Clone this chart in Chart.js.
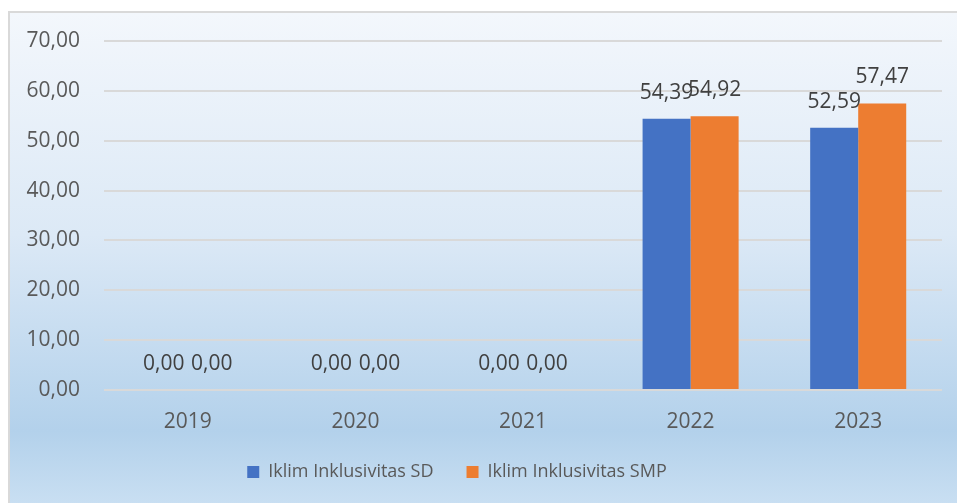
<!DOCTYPE html>
<html>
<head>
<meta charset="utf-8">
<script src="https://cdn.jsdelivr.net/npm/chart.js@4.4.0/dist/chart.umd.min.js"></script>
<style>
  body { margin: 0; background: #ffffff; }
  #box {
    position: absolute; left: 8px; top: 11px; width: 949px; height: 492px;
    border-left: 2px solid #d9d9d9; border-top: 2px solid #d9d9d9;
    background: linear-gradient(to bottom, #f3f7fc 0%, #dce9f6 45%, #b3d1eb 85%, #c9dff2 100%);
  }
  canvas { display: block; }
</style>
</head>
<body>
<div id="box"><canvas id="myChart" width="947" height="490"></canvas></div>
<script>
var years = ["2019", "2020", "2021", "2022", "2023"];
var seriesNames = ["Iklim Inklusivitas SD", "Iklim Inklusivitas SMP"];
var nilaiSD = [0, 0, 0, 54.39, 52.59];
var nilaiSMP = [0, 0, 0, 54.92, 57.47];
var yTicks = [0, 10, 20, 30, 40, 50, 60, 70];

function fmt(v) {
    return v.toFixed(2).replace('.', ',');
}

// value labels above each bar
var labelPlugin = {
    id: 'barLabels',
    afterDatasetsDraw: function (chart) {
        var ctx = chart.ctx;
        ctx.save();
        ctx.font = '21px "Open Sans"';
        ctx.fillStyle = '#404040';
        ctx.textAlign = 'center';
        ctx.textBaseline = 'middle';
        chart.data.datasets.forEach(function (ds, i) {
            var meta = chart.getDatasetMeta(i);
            meta.data.forEach(function (bar, j) {
                ctx.fillText(fmt(ds.data[j]), bar.x, bar.y - 26);
            });
        });
        ctx.restore();
    }
};

// legend sits a bit left of centre in the original
var legendShift = {
    id: 'legendShift',
    afterLayout: function (chart) {
        if (chart.legend) {
            chart.legend.left -= 19;
            chart.legend.right -= 19;
        }
    }
};

var ctx = document.getElementById("myChart").getContext("2d");
var myChart = new Chart(ctx, {
    type: "bar",
    data: {
        labels: years,
        datasets: [
            {
                label: seriesNames[0],
                data: nilaiSD,
                backgroundColor: "#4472c4",
                categoryPercentage: 0.573,
                barPercentage: 1.0
            },
            {
                label: seriesNames[1],
                data: nilaiSMP,
                backgroundColor: "#ed7d31",
                categoryPercentage: 0.573,
                barPercentage: 1.0
            }
        ]
    },
    options: {
        responsive: false,
        animation: false,
        layout: { padding: { top: 28, right: 15, left: 0, bottom: 12 } },
        scales: {
            x: {
                grid: { display: false, drawTicks: false },
                border: { display: false },
                ticks: { color: "#595959", font: { family: "Open Sans", size: 21 }, padding: 19 },
                afterFit: function (axis) { axis.height = 40; }
            },
            y: {
                min: 0,
                max: 70,
                afterBuildTicks: function (axis) {
                    axis.ticks = yTicks.map(function (v) { return { value: v }; });
                },
                grid: { color: "#d9d9d9", lineWidth: 2, drawTicks: false },
                border: { display: false },
                ticks: {
                    color: "#595959",
                    font: { family: "Open Sans", size: 21 },
                    padding: 24,
                    callback: function (v) { return fmt(v); }
                },
                afterFit: function (axis) {
                    axis.width = 94;
                    axis.paddingTop = 0;
                    axis.paddingBottom = 0;
                }
            }
        },
        plugins: {
            legend: {
                position: "bottom",
                labels: {
                    color: "#595959",
                    font: { family: "Open Sans", size: 18 },
                    boxWidth: 12,
                    boxHeight: 12,
                    padding: 33
                }
            },
            tooltip: { enabled: false }
        }
    },
    plugins: [labelPlugin, legendShift]
});
</script>
</body>
</html>
